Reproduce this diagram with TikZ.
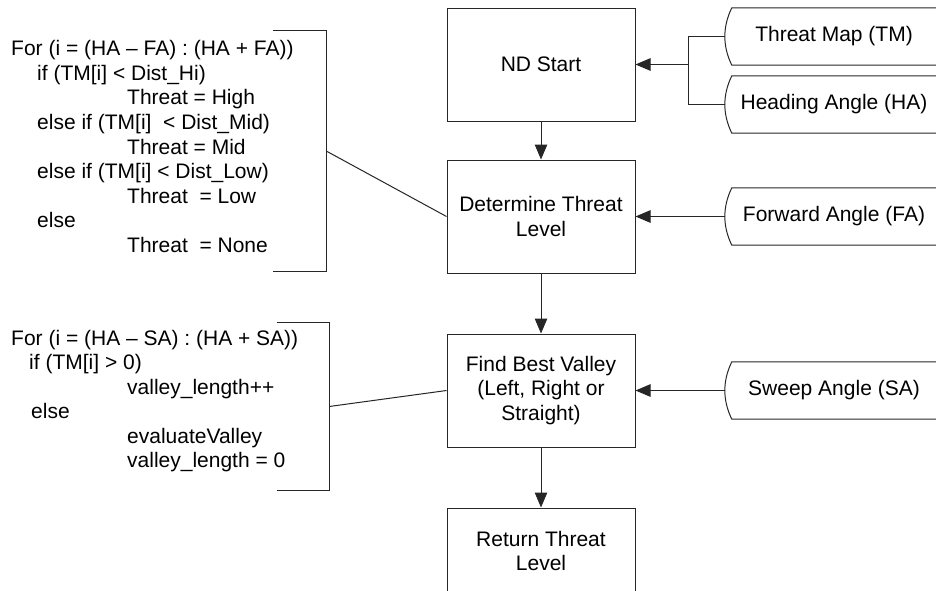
\documentclass[tikz,border=0pt]{standalone}
\usepackage{fontspec}
\setmainfont{Liberation Sans}
\usetikzlibrary{arrows.meta}
\begin{document}
\begin{tikzpicture}[x=1pt,y=-1pt,
  ln/.style={draw=black!85, line width=1pt},
  proc/.style={ln, rectangle, minimum width=188pt, minimum height=113pt, inner sep=0pt, align=center, font=\fontsize{21}{24.5}\selectfont},
  datanode/.style={rectangle, minimum width=218pt, minimum height=57pt, inner sep=0pt, font=\fontsize{21}{24.5}\selectfont},
  code/.style={align=left, inner sep=0pt, font=\fontsize{21}{24.6}\selectfont},
  brk/.style={rectangle, inner sep=0pt},
  arr/.style={ln, -{Triangle[length=15pt,width=12.5pt]}},
]
\useasboundingbox (0,0) rectangle (936,590);
\clip (0,0) rectangle (936,590);

% process boxes
\node[proc] (nd)  at (541,64.5)  {ND Start};
\node[proc] (dtl) at (541,216.5) {Determine Threat\\Level};
\node[proc] (fbv) at (541,390.5) {Find Best Valley\\(Left, Right or\\Straight)};
\node[proc, minimum height=86pt] (rtl) at (541,551) {Return Threat\\Level};

% data inputs
\node[datanode] (tm) at (834,36.5)  {Threat Map (TM)};
\node[datanode] (ha) at (834,104.5) {Heading Angle (HA)};
\node[datanode] (fa) at (834,216.5) {Forward Angle (FA)};
\node[datanode] (sa) at (834,390.5) {Sweep Angle (SA)};
\foreach \n in {tm,ha,fa,sa}{
  \draw[ln] (\n.north east) -- ([xshift=7pt]\n.north west)
    .. controls ([xshift=-2.3pt,yshift=-19pt]\n.north west) and ([xshift=-2.3pt,yshift=19pt]\n.south west)
    .. ([xshift=7pt]\n.south west) -- (\n.south east);
}

% annotation brackets
\node[brk, minimum width=53pt, minimum height=240pt] (ann1) at (299.5,151) {};
\node[brk, minimum width=52pt, minimum height=167pt] (ann2) at (303,406.5) {};
\draw[ln] (ann1.north west) -- (ann1.north east) -- (ann1.south east) -- (ann1.south west);
\draw[ln] (ann2.north west) -- (ann2.north east) -- (ann2.south east) -- (ann2.south west);

\node[code, anchor=west] (code1) at (11,146.5) {%
For (i = (HA – FA) : (HA + FA))\\
\hspace*{26pt}if (TM[i] < Dist\_Hi)\\
\hspace*{116pt}Threat = High\\
\hspace*{26pt}else if (TM[i]\ \ < Dist\_Mid)\\
\hspace*{116pt}Threat = Mid\\
\hspace*{26pt}else if (TM[i] < Dist\_Low)\\
\hspace*{116pt}Threat\ \ = Low\\
\hspace*{26pt}else\\
\hspace*{116pt}Threat\ \ = None};

\node[code, anchor=west, font=\fontsize{21}{24.4}\selectfont] (code2) at (11,401) {%
For (i = (HA – SA) : (HA + SA))\\
\hspace*{18pt}if (TM[i] > 0)\\
\hspace*{116pt}valley\_length++\\
\hspace*{20pt}else\\
\hspace*{116pt}evaluateValley\\
\hspace*{116pt}valley\_length = 0};

% connectors
\coordinate (j) at (688,64.5);
\draw[ln] (tm.west) -- (tm.west -| j) -- (ha.west -| j) -- (ha.west);
\draw[arr] (j) -- (nd.east);
\draw[arr] (fa.west) -- (dtl.east);
\draw[arr] (sa.west) -- (fbv.east);
\draw[arr] (nd.south) -- (dtl.north);
\draw[arr] (dtl.south) -- (fbv.north);
\draw[arr] (fbv.south) -- (rtl.north);
\draw[ln] (ann1.east) -- (dtl.west);
\draw[ln] (ann2.east) -- (fbv.west);
\end{tikzpicture}
\end{document}
